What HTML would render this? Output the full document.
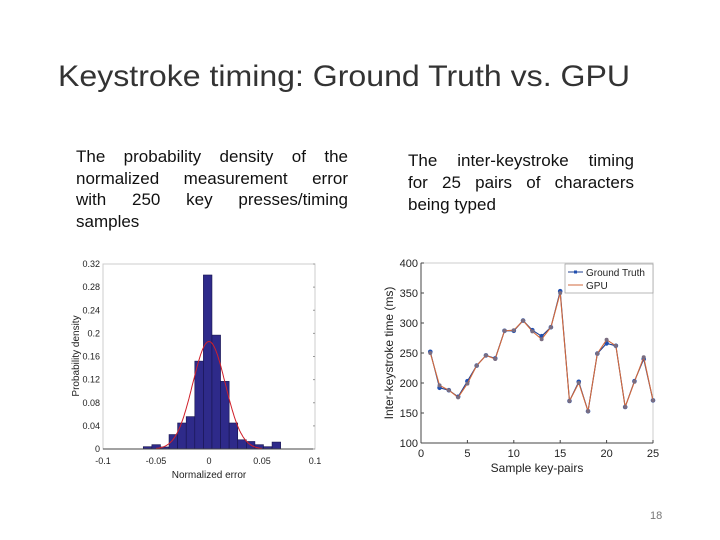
<!DOCTYPE html>
<html><head><meta charset="utf-8"><style>
body{margin:0;background:#fff;position:relative;width:720px;height:540px;overflow:hidden;}
svg{display:block;font-family:"Liberation Sans",sans-serif;position:absolute;left:0;top:0;}
.cap{position:absolute;font-family:"Liberation Sans",sans-serif;font-size:17px;color:#111;}
.cap div{text-align:justify;text-align-last:justify;white-space:nowrap;}
.cap div.last{text-align-last:left;}
</style></head><body>
<svg id="s" width="720" height="540" viewBox="0 0 720 540">
<text x="58" y="86" font-size="30" fill="#333" textLength="572" lengthAdjust="spacingAndGlyphs">Keystroke timing: Ground Truth vs. GPU</text>
<text x="650" y="519" font-size="11" fill="#777">18</text>
<g id="hist"></g>
<g id="line"></g>
</svg>
<div class="cap" style="left:76px;top:146px;width:272px;line-height:21.5px;"><div>The probability density of the</div><div>normalized measurement error</div><div>with 250 key presses/timing</div><div class="last">samples</div></div>
<div class="cap" style="left:408px;top:150px;width:226px;line-height:22px;"><div>The inter-keystroke timing</div><div>for 25 pairs of characters</div><div class="last">being typed</div></div>
<script>
const histStart=-0.062, binW=0.0081;
const histValues=[0.004,0.0075,0.0035,0.025,0.045,0.056,0.152,0.301,0.197,0.117,0.045,0.016,0.013,0.0075,0.004,0.012];
const histYTicks=[0,0.04,0.08,0.12,0.16,0.2,0.24,0.28,0.32];
const histXTicks=[-0.1,-0.05,0,0.05,0.1];
const fitPeak=0.186, fitSigma=0.0154;
const xs=[1,2,3,4,5,6,7,8,9,10,11,12,13,14,15,16,17,18,19,20,21,22,23,24,25];
const gt=[252,192,188,177,203,229,246,241,287,287,304,288,278,293,353,170,202,153,249,266,262,160,203,240,171];
const gpu=[250,196,188,176,199,229,246,240,287,288,304,286,273,293,350,170,200,153,249,272,262,160,202,243,171];
const lineYTicks=[100,150,200,250,300,350,400];
const lineXTicks=[0,5,10,15,20,25];
const NS="http://www.w3.org/2000/svg";
function mk(p,t,a,txt){const e=document.createElementNS(NS,t);for(const k in a)e.setAttribute(k,a[k]);if(txt!==undefined)e.textContent=txt;p.appendChild(e);return e;}
const H=document.getElementById('hist');
const hx=v=>103+(v+0.1)/0.2*212, hy=v=>449-v/0.32*185;
let e=mk(H,'rect',{x:103,y:264,width:212,height:185,fill:'#fff',stroke:'#ccc'});

histValues.forEach((v,i)=>{const x0=hx(histStart+i*binW),x1=hx(histStart+(i+1)*binW);
 const r=mk(H,'rect',{x:x0,y:hy(v),width:x1-x0,height:449-hy(v),fill:'#2e2a8a',stroke:'#16134d','stroke-width':0.6});
 });
let d='';for(let x=-0.05;x<=0.0501;x+=0.001){const y=fitPeak*Math.exp(-x*x/(2*fitSigma*fitSigma));d+=(d?'L':'M')+hx(x).toFixed(1)+','+hy(y).toFixed(1);}
e=mk(H,'path',{d:d,fill:'none',stroke:'#d0202a','stroke-width':1});

mk(H,'line',{x1:103,y1:449,x2:315,y2:449,stroke:'#444'});
histYTicks.forEach(t=>{const l=mk(H,'text',{x:100,y:hy(t)+3,'font-size':9,'text-anchor':'end',fill:'#222'},String(t));
 
 mk(H,'line',{x1:313,y1:hy(t),x2:315,y2:hy(t),stroke:'#999'});});
histXTicks.forEach(t=>{const l=mk(H,'text',{x:hx(t),y:464,'font-size':9,'text-anchor':'middle',fill:'#222'},String(t));
 });
e=mk(H,'text',{x:209,y:478,'font-size':10,'text-anchor':'middle',fill:'#222'},'Normalized error');

e=mk(H,'text',{x:0,y:0,'font-size':10,'text-anchor':'middle',fill:'#222',transform:'translate(79,356) rotate(-90)'},'Probability density');

const L=document.getElementById('line');
const lx=v=>421+v/25*232, ly=v=>443-(v-100)/300*180;
e=mk(L,'rect',{x:421,y:263,width:232,height:180,fill:'#fff',stroke:'#ccc'});

mk(L,'line',{x1:421,y1:263,x2:421,y2:443,stroke:'#444'});mk(L,'line',{x1:421,y1:443,x2:653,y2:443,stroke:'#444'});
lineYTicks.forEach(t=>{const l=mk(L,'text',{x:418,y:ly(t)+4,'font-size':11,'text-anchor':'end',fill:'#222'},String(t));
 
 mk(L,'line',{x1:421,y1:ly(t),x2:424,y2:ly(t),stroke:'#444'});});
lineXTicks.forEach(t=>{const l=mk(L,'text',{x:lx(t),y:457,'font-size':11,'text-anchor':'middle',fill:'#222'},String(t));
 
 mk(L,'line',{x1:lx(t),y1:443,x2:lx(t),y2:440,stroke:'#444'});});
function series(vals,col,name,mark,r){const p=mk(L,'polyline',{points:vals.map((v,i)=>lx(xs[i])+','+ly(v)).join(' '),fill:'none',stroke:col,'stroke-width':1.1});
 
 vals.forEach((v,i)=>{const c=mk(L,'circle',{cx:lx(xs[i]),cy:ly(v),r:r,fill:mark});
 });}
series(gt,'#1f3f8f','ground-truth','#1f4fb0',2.3);
series(gpu,'#d2693c','gpu','#7a6d80',2);
const lg=mk(L,'g',{});
mk(lg,'rect',{x:565,y:264,width:88,height:29,fill:'#fff',stroke:'#999','stroke-width':0.7});
mk(lg,'line',{x1:568,y1:272,x2:583,y2:272,stroke:'#1f3f8f'});mk(lg,'rect',{x:574,y:270.5,width:3,height:3,fill:'#1f4fb0'});
mk(lg,'line',{x1:568,y1:285,x2:583,y2:285,stroke:'#d2693c'});
e=mk(lg,'text',{x:586,y:276,'font-size':10,fill:'#222'},'Ground Truth');
e=mk(lg,'text',{x:586,y:289,'font-size':10,fill:'#222'},'GPU');
e=mk(L,'text',{x:537,y:472,'font-size':12,'text-anchor':'middle',fill:'#222'},'Sample key-pairs');

e=mk(L,'text',{x:0,y:0,'font-size':12,'text-anchor':'middle',fill:'#222',transform:'translate(393,353) rotate(-90)'},'Inter-keystroke time (ms)');

</script>
</body></html>
